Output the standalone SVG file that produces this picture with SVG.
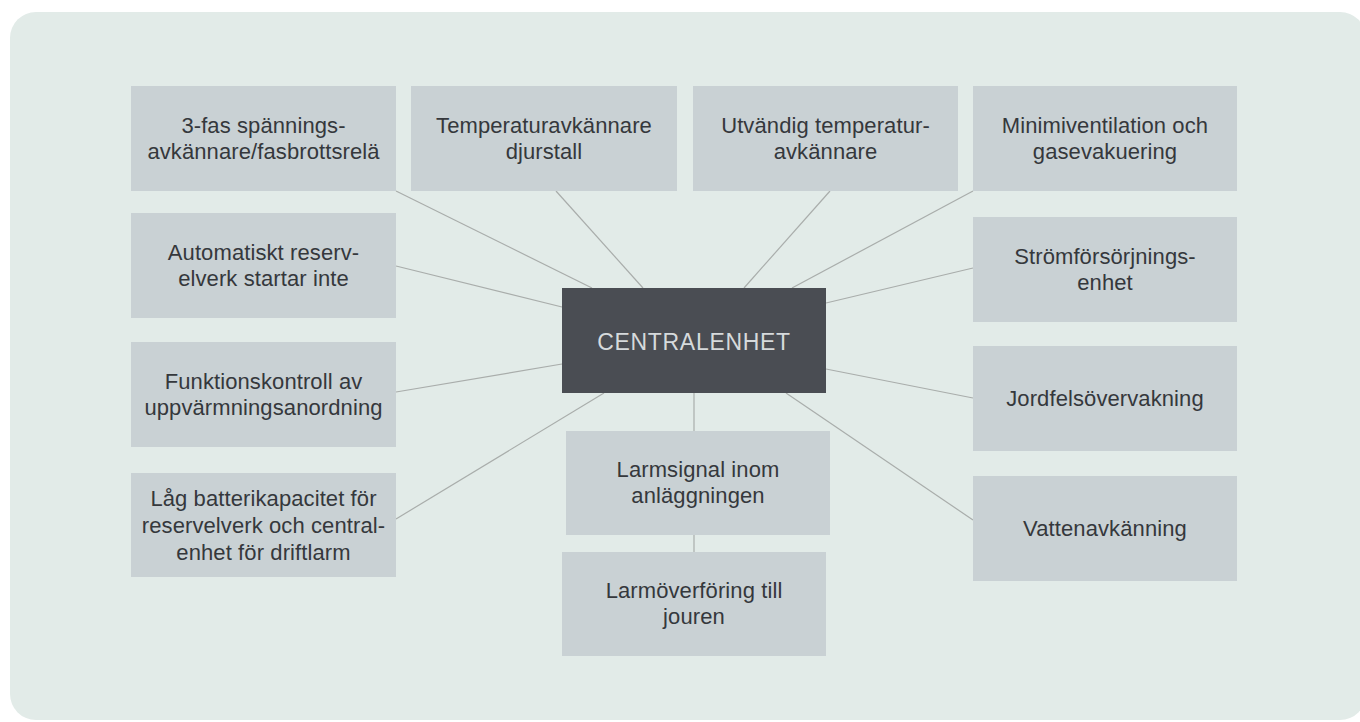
<svg xmlns="http://www.w3.org/2000/svg" width="1360" height="722" viewBox="0 0 1360 722">
<style>
.box{fill:#c9d1d4}
.t{font-family:"Liberation Sans",Arial,sans-serif;font-size:22px;fill:#35383c;text-anchor:middle;letter-spacing:0.1px}
.c{font-family:"Liberation Sans",Arial,sans-serif;font-size:23px;fill:#d6dadc;text-anchor:middle;letter-spacing:0.7px}
.ln{stroke:#a9adab;stroke-width:1.2;fill:none}
</style>
<rect x="0" y="0" width="1360" height="722" fill="#ffffff"/>
<rect x="10" y="12" width="1356" height="708" rx="26" fill="#e2ebe8"/>
<g id="connectors">
<line class="ln" x1="396" y1="191" x2="592" y2="288"/>
<line class="ln" x1="556" y1="191" x2="643" y2="288"/>
<line class="ln" x1="830" y1="191" x2="744" y2="288"/>
<line class="ln" x1="973" y1="191" x2="792" y2="288"/>
<line class="ln" x1="396" y1="266" x2="562" y2="307"/>
<line class="ln" x1="973" y1="268" x2="826" y2="303"/>
<line class="ln" x1="396" y1="392" x2="562" y2="364"/>
<line class="ln" x1="826" y1="369" x2="973" y2="398"/>
<line class="ln" x1="396" y1="519" x2="604" y2="393"/>
<line class="ln" x1="786" y1="393" x2="973" y2="520"/>
<line class="ln" x1="694" y1="393" x2="694" y2="431"/>
<line class="ln" x1="694" y1="535" x2="694" y2="552"/>
</g>
<g id="n1"><rect class="box" x="131" y="86" width="265" height="105"/>
<text class="t" x="263.5" y="133">3-fas spännings-</text><text class="t" x="263.5" y="159">avkännare/fasbrottsrelä</text></g>
<g id="n2"><rect class="box" x="131" y="213" width="265" height="105"/>
<text class="t" x="263.5" y="260">Automatiskt reserv-</text><text class="t" x="263.5" y="286">elverk startar inte</text></g>
<g id="n3"><rect class="box" x="131" y="342" width="265" height="105"/>
<text class="t" x="263.5" y="389">Funktionskontroll av</text><text class="t" x="263.5" y="415">uppvärmningsanordning</text></g>
<g id="n4"><rect class="box" x="131" y="473" width="265" height="104"/>
<text class="t" x="263.5" y="506">Låg batterikapacitet för</text><text class="t" x="263.5" y="533">reservelverk och central-</text><text class="t" x="263.5" y="560">enhet för driftlarm</text></g>
<g id="n5"><rect class="box" x="411" y="86" width="266" height="105"/>
<text class="t" x="544" y="133">Temperaturavkännare</text><text class="t" x="544" y="159">djurstall</text></g>
<g id="n6"><rect class="box" x="693" y="86" width="265" height="105"/>
<text class="t" x="825.5" y="133">Utvändig temperatur-</text><text class="t" x="825.5" y="159">avkännare</text></g>
<g id="n7"><rect class="box" x="973" y="86" width="264" height="105"/>
<text class="t" x="1105" y="133">Minimiventilation och</text><text class="t" x="1105" y="159">gasevakuering</text></g>
<g id="n8"><rect class="box" x="973" y="217" width="264" height="105"/>
<text class="t" x="1105" y="264">Strömförsörjnings-</text><text class="t" x="1105" y="290">enhet</text></g>
<g id="n9"><rect class="box" x="973" y="346" width="264" height="105"/>
<text class="t" x="1105" y="406">Jordfelsövervakning</text></g>
<g id="n10"><rect class="box" x="973" y="476" width="264" height="105"/>
<text class="t" x="1105" y="536">Vattenavkänning</text></g>
<g id="n11"><rect class="box" x="566" y="431" width="264" height="104"/>
<text class="t" x="698" y="477">Larmsignal inom</text><text class="t" x="698" y="503">anläggningen</text></g>
<g id="n12"><rect class="box" x="562" y="552" width="264" height="104"/>
<text class="t" x="694" y="598">Larmöverföring till</text><text class="t" x="694" y="624">jouren</text></g>
<g id="center"><rect x="562" y="288" width="264" height="105" fill="#4a4d53"/>
<text class="c" x="694" y="350">CENTRALENHET</text></g>
</svg>
